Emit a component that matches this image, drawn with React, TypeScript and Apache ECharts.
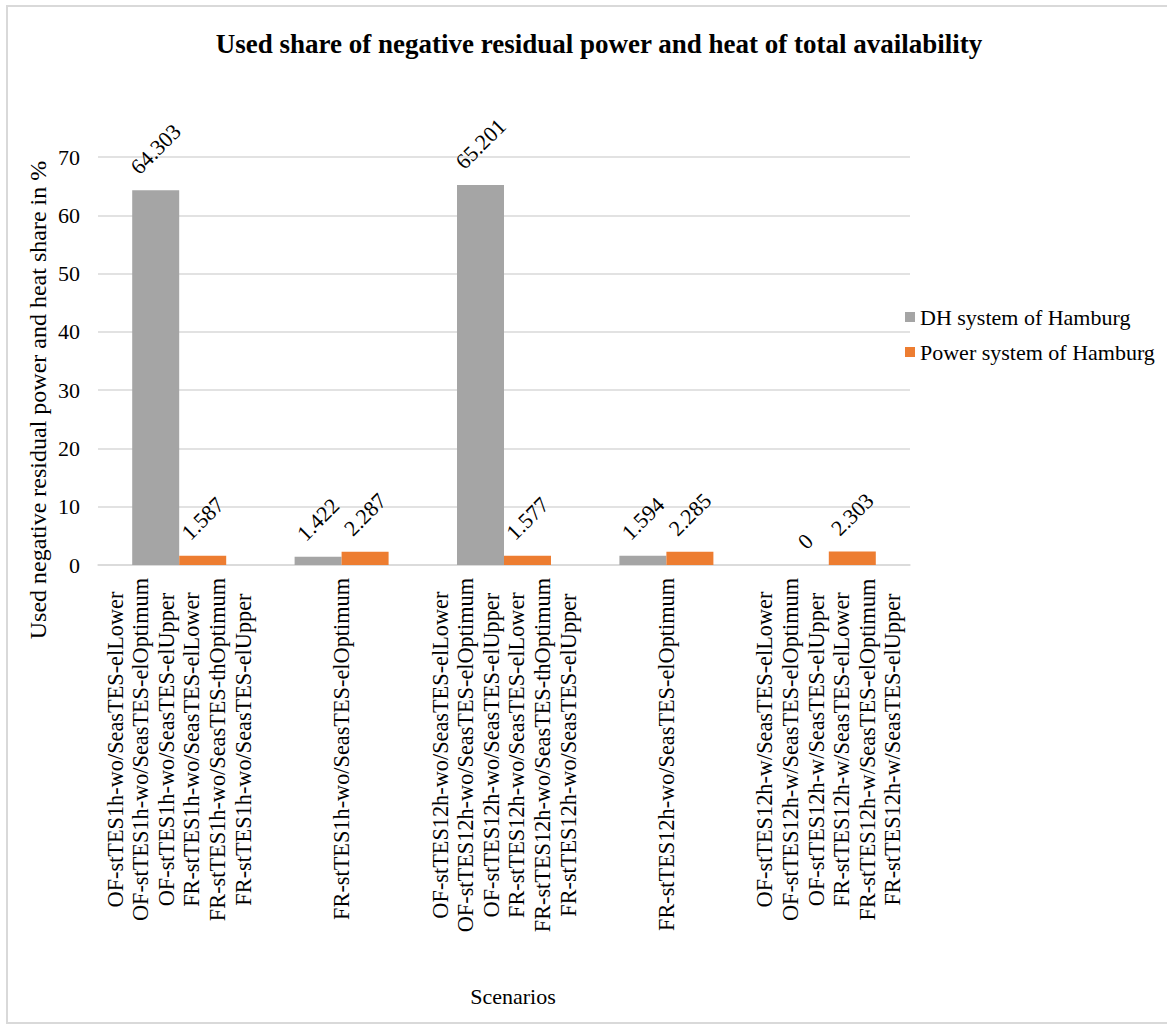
import React, { useEffect, useRef } from "react";
import * as echarts from "echarts";

const FONT = "Liberation Serif";

const group1 = [
  "OF-stTES1h-wo/SeasTES-elLower",
  "OF-stTES1h-wo/SeasTES-elOptimum",
  "OF-stTES1h-wo/SeasTES-elUpper",
  "FR-stTES1h-wo/SeasTES-elLower",
  "FR-stTES1h-wo/SeasTES-thOptimum",
  "FR-stTES1h-wo/SeasTES-elUpper",
];
const group2 = ["FR-stTES1h-wo/SeasTES-elOptimum"];
const group3 = [
  "OF-stTES12h-wo/SeasTES-elLower",
  "OF-stTES12h-wo/SeasTES-elOptimum",
  "OF-stTES12h-wo/SeasTES-elUpper",
  "FR-stTES12h-wo/SeasTES-elLower",
  "FR-stTES12h-wo/SeasTES-thOptimum",
  "FR-stTES12h-wo/SeasTES-elUpper",
];
const group4 = ["FR-stTES12h-wo/SeasTES-elOptimum"];
const group5 = [
  "OF-stTES12h-w/SeasTES-elLower",
  "OF-stTES12h-w/SeasTES-elOptimum",
  "OF-stTES12h-w/SeasTES-elUpper",
  "FR-stTES12h-w/SeasTES-elLower",
  "FR-stTES12h-w/SeasTES-elOptimum",
  "FR-stTES12h-w/SeasTES-elUpper",
];
const categories = [group1, group2, group3, group4, group5].map((g) => g.join("\n"));

const dhValues = [64.303, 1.422, 65.201, 1.594, 0];
const powerValues = [1.587, 2.287, 1.577, 2.285, 2.303];

const seriesNames = ["DH system of Hamburg", "Power system of Hamburg"];
const yTicks = { min: 0, max: 70, interval: 10 };

const LABEL_FS = 22;

function labelData(values: number[]) {
  return values.map((v) => {
    const s = String(v);
    const len = s.length * LABEL_FS * 0.5 - (s.includes(".") ? LABEL_FS * 0.25 : 0);
    const half = (len * 0.7071 + LABEL_FS * 0.7071) / 2;
    return { value: v, label: { distance: 12 + half } };
  });
}

export default function App() {
  const ref = useRef<HTMLDivElement>(null);
  useEffect(() => {
    if (!ref.current) return;
    const chart = echarts.init(ref.current, undefined, { renderer: "svg" });
    const barLabel = {
      show: true,
      position: "top",
      rotate: 45,
      align: "center",
      verticalAlign: "middle",
      fontFamily: FONT,
      fontSize: LABEL_FS,
      color: "#000",
    };
    chart.setOption({
      animation: false,
      backgroundColor: "#fff",
      title: {
        text: "Used share of negative residual power and heat of total availability",
        left: 594,
        textAlign: "center",
        top: 25,
        textStyle: { fontFamily: FONT, fontWeight: "bold", fontSize: 27, color: "#000" },
      },
      legend: {
        orient: "vertical",
        left: 900,
        top: 300,
        itemWidth: 10,
        itemHeight: 10,
        itemGap: 11,
        icon: "rect",
        textStyle: { fontFamily: FONT, fontSize: 22, color: "#000", lineHeight: 24 },
        data: seriesNames,
      },
      grid: { left: 98, right: 257, top: 157, bottom: 461, containLabel: false },
      xAxis: {
        type: "category",
        data: categories,
        name: "Scenarios",
        nameLocation: "middle",
        nameGap: 420,
        nameTextStyle: { fontFamily: FONT, fontSize: 22, color: "#000", padding: [0, 0, 0, 18] },
        axisLine: { lineStyle: { color: "#D9D9D9", width: 1.5 } },
        axisTick: { show: false },
        axisLabel: {
          interval: 0,
          rotate: 90,
          margin: 13,
          hideOverlap: false,
          fontFamily: FONT,
          fontSize: 22,
          formatter: (v: string) => v.split("\n").map((l) => `{c|${l}}`).join("\n"),
          rich: {
            c: { align: "center", fontFamily: FONT, fontSize: 22.3, lineHeight: 25.6, color: "#000" },
          },
        },
      },
      yAxis: {
        type: "value",
        min: yTicks.min,
        max: yTicks.max,
        interval: yTicks.interval,
        axisLine: { show: false },
        axisTick: { show: false },
        splitLine: { lineStyle: { color: "#D9D9D9", width: 1.5 } },
        axisLabel: { fontFamily: FONT, fontSize: 22, color: "#000", margin: 18 },
      },
      graphic: [
        {
          type: "rect",
          silent: true,
          shape: { x: 7, y: 6, width: 1200, height: 1017 },
          style: { fill: "none", stroke: "#D9D9D9", lineWidth: 2 },
        },
        {
          type: "text",
          x: 38,
          y: 400,
          rotation: Math.PI / 2,
          style: {
            text: "Used negative residual power and heat share in %",
            font: "24px Liberation Serif",
            fontFamily: FONT,
            fontSize: 24,
            fill: "#000",
            align: "center",
            verticalAlign: "middle",
          },
        },
      ],
      series: [
        {
          name: seriesNames[0],
          type: "bar",
          data: labelData(dhValues),
          itemStyle: { color: "#A5A5A5" },
          barWidth: 47,
          barGap: "0%",
          label: barLabel,
        },
        {
          name: seriesNames[1],
          type: "bar",
          data: labelData(powerValues),
          itemStyle: { color: "#ED7D31" },
          barWidth: 47,
          barGap: "0%",
          label: barLabel,
        },
      ],
    });
    return () => chart.dispose();
  }, []);
  return (
    <div
      ref={ref}
      style={{ position: "fixed", left: 0, top: 0, width: 1167, height: 1026 }}
    />
  );
}
